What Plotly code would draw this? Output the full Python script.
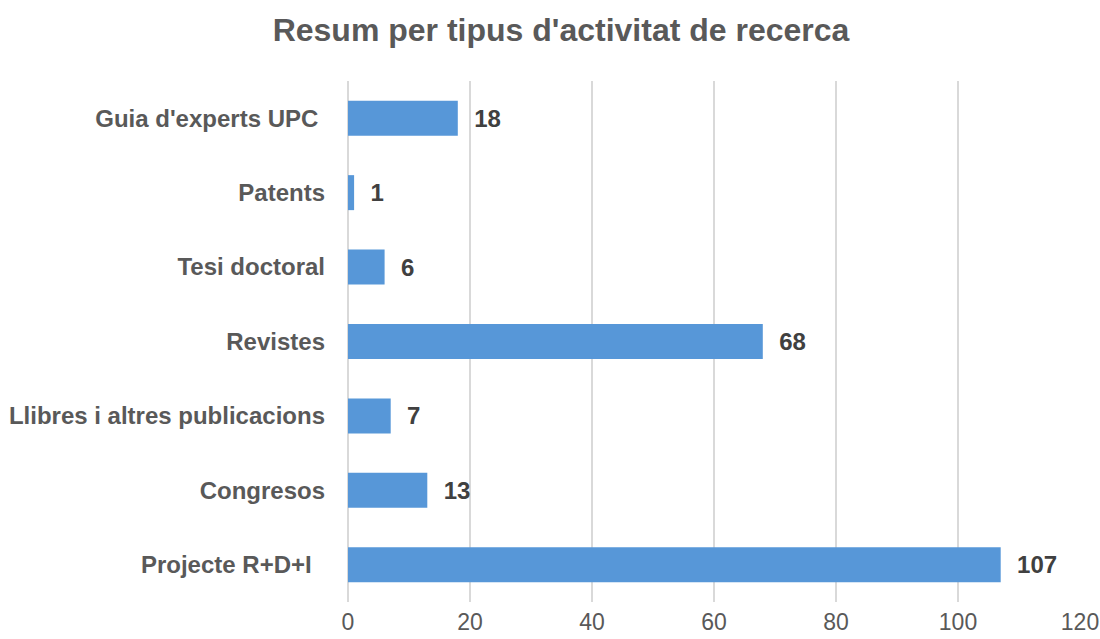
import plotly.graph_objects as go

categories = ["Projecte R+D+I\u00a0\u00a0", "Congresos", "Llibres i altres publicacions", "Revistes",
              "Tesi doctoral", "Patents", "Guia d'experts UPC\u00a0"]
values = [107, 13, 7, 68, 6, 1, 18]
tick_vals = [0, 20, 40, 60, 80, 100, 120]

FONT = "Liberation Sans, Arial"

fig = go.Figure()
fig.add_trace(go.Bar(
    y=categories, x=values, orientation="h",
    marker=dict(color="#5797d8", line=dict(width=0)),
    width=0.47,
    text=["\u00a0\u00a0" + str(v) for v in values],
    textposition="outside",
    textfont=dict(family=FONT, size=24, color="#404040", weight="bold"),
    cliponaxis=False,
    hoverinfo="skip",
))

fig.update_layout(
    width=1100, height=639,
    paper_bgcolor="white", plot_bgcolor="white",
    margin=dict(l=348, r=20, t=81, b=37, autoexpand=False),
    title=dict(text="<b>Resum per tipus d'activitat de recerca</b>", x=0.51, xanchor="center",
               y=0.953, yanchor="middle",
               font=dict(family=FONT, size=32, color="#595959")),
    showlegend=False,
    xaxis=dict(range=[0, 120], tickvals=tick_vals, showgrid=True, gridcolor="#d9d9d9",
               gridwidth=1.5, zeroline=True, zerolinecolor="#d9d9d9", zerolinewidth=1.5,
               tickfont=dict(family=FONT, size=23, color="#595959"),
               ticks="", ticklabelstandoff=4, automargin=False),
    yaxis=dict(tickfont=dict(family=FONT, size=24, color="#595959", weight="bold"),
               ticks="", ticklabelstandoff=22, showgrid=False, automargin=False),
)

fig.write_html("out.html",
               config={"displayModeBar": False},
               post_script="document.body.style.margin='0';document.body.style.overflow='hidden';")
